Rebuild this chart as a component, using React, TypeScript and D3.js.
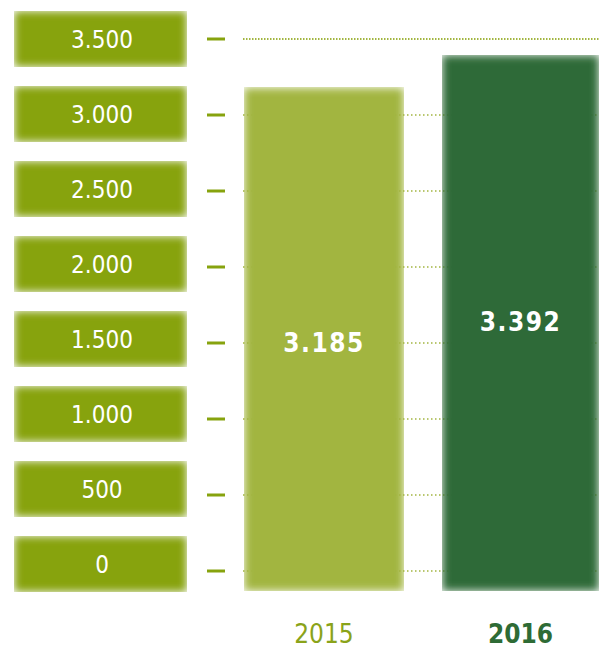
import React from "react";
import * as d3 from "d3";

const years = ["2015", "2016"];
const values = [3185, 3392];
const valueLabels = ["3.185", "3.392"];
const ticks = [3500, 3000, 2500, 2000, 1500, 1000, 500, 0];
const tickLabels = ["3.500", "3.000", "2.500", "2.000", "1.500", "1.000", "500", "0"];

const W = 599;
const H = 648;
const FONT = "'DejaVu Sans Condensed', 'DejaVu Sans', sans-serif";

export default function App() {
  const yTick = d3.scaleLinear().domain([0, 3500]).range([571, 39]);
  const yBox = d3.scaleLinear().domain([0, 3500]).range([564, 39]);
  const yBar = d3.scaleLinear().domain([0, 3500]).range([591, 38]);
  const x = d3.scaleOrdinal<string, number>().domain(years).range([244, 442]);
  const barW = [160, 157];
  const barColors = ["#a2b540", "#2f6b37"];
  const yearColors = ["#8aa31a", "#2e6b35"];
  const boxColor = "#87a30e";

  return (
    <svg width={W} height={H} style={{ position: "absolute", left: 0, top: 0 }}>
      <defs>
        <filter id="feather" x="0" y="0" width="1" height="1" filterUnits="objectBoundingBox">
          <feGaussianBlur stdDeviation="4" />
        </filter>
      </defs>
      {/* grid lines */}
      {ticks.map((t, i) => (
        <line
          key={"g" + t}
          x1={243}
          x2={W}
          y1={yTick(t)}
          y2={yTick(t)}
          stroke="#a2b540"
          strokeWidth={i === 0 ? 2.2 : 1.3}
          strokeDasharray={i === 0 ? "1.5,1.5" : "1.5,2.5"}
        />
      ))}
      {/* label boxes */}
      {ticks.map((t, i) => (
        <g key={"b" + t}>
          <rect
            x={14}
            y={yBox(t) - 28}
            width={173}
            height={56}
            fill={boxColor}
            filter="url(#feather)"
          />
          <text
            x={102}
            y={yBox(t)}
            dy="0.36em"
            textAnchor="middle"
            fill="#ffffff"
            fontFamily={FONT}
            fontSize={24}
          >
            {tickLabels[i]}
          </text>
          <line
            x1={207}
            x2={225}
            y1={yTick(t)}
            y2={yTick(t)}
            stroke={boxColor}
            strokeWidth={3}
          />
        </g>
      ))}
      {/* bars */}
      {years.map((yr, i) => (
        <g key={yr}>
          <rect
            x={x(yr)}
            y={yBar(values[i])}
            width={barW[i]}
            height={yBar(0) - yBar(values[i])}
            fill={barColors[i]}
            filter="url(#feather)"
          />
          <text
            x={x(yr) + barW[i] / 2}
            y={i === 0 ? 343 : 322}
            dy="0.36em"
            textAnchor="middle"
            fill="#ffffff"
            fontFamily={FONT}
            fontWeight="bold"
            fontSize={26}
            letterSpacing={1.5}
          >
            {valueLabels[i]}
          </text>
          <text
            x={x(yr) + barW[i] / 2}
            y={643}
            textAnchor="middle"
            fill={yearColors[i]}
            fontFamily={FONT}
            fontWeight={i === 1 ? "bold" : "normal"}
            fontSize={26}
          >
            {yr}
          </text>
        </g>
      ))}
    </svg>
  );
}
